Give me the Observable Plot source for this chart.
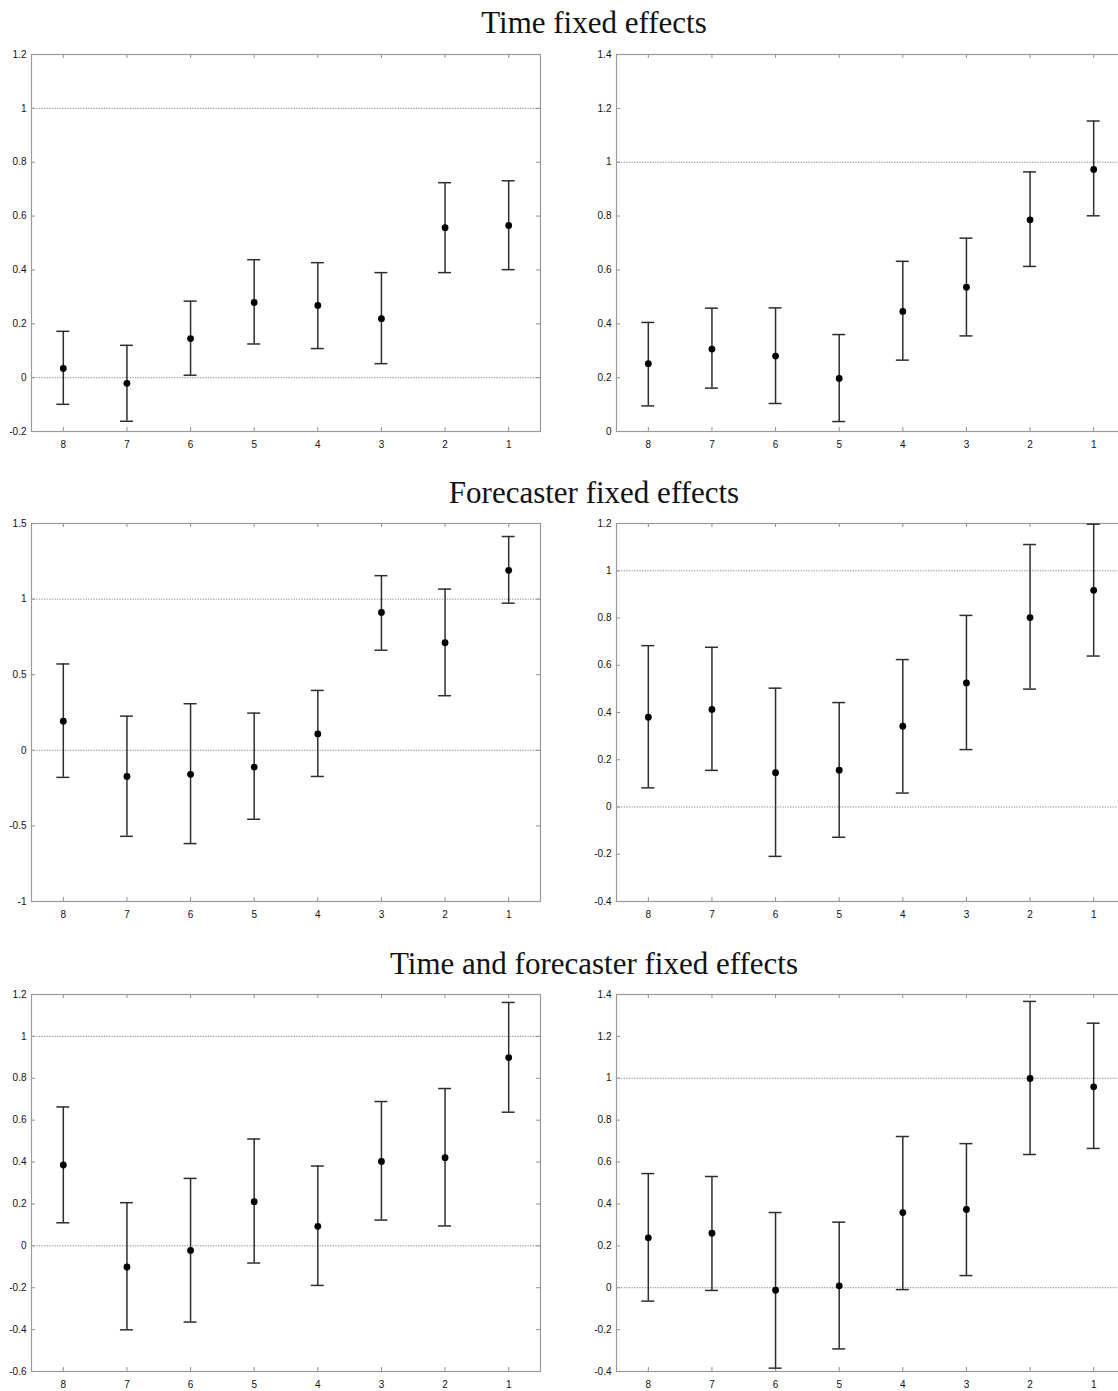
<!DOCTYPE html>
<html><head><meta charset="utf-8">
<script src="https://cdn.jsdelivr.net/npm/d3@7"></script>
<script src="https://cdn.jsdelivr.net/npm/@observablehq/plot@0.6"></script>
<style>
html,body{margin:0;padding:0;background:#fff;overflow:hidden;}
#root{position:relative;width:1118px;height:1391px;overflow:hidden;background:#fff;}
.title{position:absolute;left:0;width:1188px;text-align:center;font-family:"Liberation Serif","DejaVu Serif",serif;font-size:31px;color:#111;line-height:31px;white-space:nowrap;}
.panel{position:absolute;}
</style></head><body><div id="root"></div>
<script>
// Forecast horizons (x categories, plotted left to right)
const horizons = ["8","7","6","5","4","3","2","1"];
const refLines = [0, 1];

// Time fixed effects
const timeLeftEst  = [0.034, -0.021, 0.145, 0.279, 0.268, 0.219, 0.557, 0.565];
const timeLeftLow  = [-0.099, -0.162, 0.009, 0.125, 0.108, 0.052, 0.390, 0.401];
const timeLeftHigh = [0.172, 0.120, 0.284, 0.438, 0.427, 0.390, 0.724, 0.731];
const timeRightEst  = [0.252, 0.306, 0.280, 0.197, 0.446, 0.536, 0.786, 0.973];
const timeRightLow  = [0.095, 0.161, 0.104, 0.037, 0.265, 0.355, 0.613, 0.801];
const timeRightHigh = [0.405, 0.458, 0.459, 0.360, 0.632, 0.718, 0.964, 1.153];

// Forecaster fixed effects
const fcLeftEst  = [0.192, -0.173, -0.159, -0.111, 0.108, 0.912, 0.712, 1.190];
const fcLeftLow  = [-0.179, -0.569, -0.617, -0.456, -0.173, 0.662, 0.361, 0.973];
const fcLeftHigh = [0.571, 0.226, 0.308, 0.246, 0.396, 1.155, 1.066, 1.414];
const fcRightEst  = [0.380, 0.413, 0.145, 0.156, 0.342, 0.525, 0.802, 0.917];
const fcRightLow  = [0.081, 0.155, -0.209, -0.128, 0.059, 0.243, 0.499, 0.639];
const fcRightHigh = [0.683, 0.676, 0.503, 0.442, 0.624, 0.811, 1.111, 1.197];

// Time and forecaster fixed effects
const bothLeftEst  = [0.386, -0.101, -0.022, 0.211, 0.093, 0.403, 0.421, 0.899];
const bothLeftLow  = [0.110, -0.401, -0.364, -0.082, -0.189, 0.123, 0.095, 0.638];
const bothLeftHigh = [0.663, 0.206, 0.322, 0.510, 0.381, 0.689, 0.751, 1.162];
const bothRightEst  = [0.238, 0.260, -0.012, 0.009, 0.359, 0.374, 0.999, 0.959];
const bothRightLow  = [-0.064, -0.013, -0.384, -0.292, -0.009, 0.058, 0.636, 0.665];
const bothRightHigh = [0.545, 0.531, 0.359, 0.313, 0.722, 0.688, 1.367, 1.263];

// Y tick labels per panel
const ticksTimeLeft  = [-0.2, 0, 0.2, 0.4, 0.6, 0.8, 1, 1.2];
const ticksTimeRight = [0, 0.2, 0.4, 0.6, 0.8, 1, 1.2, 1.4];
const ticksFcLeft    = [-1, -0.5, 0, 0.5, 1, 1.5];
const ticksFcRight   = [-0.4, -0.2, 0, 0.2, 0.4, 0.6, 0.8, 1, 1.2];
const ticksBothLeft  = [-0.6, -0.4, -0.2, 0, 0.2, 0.4, 0.6, 0.8, 1, 1.2];
const ticksBothRight = [-0.4, -0.2, 0, 0.2, 0.4, 0.6, 0.8, 1, 1.2, 1.4];

const sectionTitles = ["Time fixed effects", "Forecaster fixed effects", "Time and forecaster fixed effects"];

const root = document.getElementById("root");
const fmt = d => String(+(+d).toFixed(1));

function panel(est, low, high, yTicks, left, frameTop, H) {
  const W = 509, mL = 31, mR = 4, mT = 8, mB = 26;
  const capInset = W / horizons.length / 2 - 6.5;
  const data = horizons.map((h, i) => ({h, est: est[i], lo: low[i], hi: high[i]}));
  const axisColor = "#8f8f8f";
  const barColor = "#2e2e2e";
  const svg = Plot.plot({
    width: mL + W + mR, height: mT + H + mB,
    marginLeft: mL, marginRight: mR, marginTop: mT, marginBottom: mB,
    style: {background: "transparent", overflow: "visible", fontFamily: "'Liberation Sans', Arial, sans-serif", fontSize: "10px", color: "#111"},
    x: {type: "band", domain: horizons, padding: 0, round: false, axis: null},
    y: {domain: [yTicks[0], yTicks[yTicks.length - 1]], axis: null},
    marks: [
      Plot.ruleY(refLines, {y: d => d, stroke: "#8a8a8a", strokeWidth: 1, strokeDasharray: "1.3,1.3"}),
      Plot.tickY(yTicks, {y: d => d, insetRight: W - 4, stroke: axisColor}),
      Plot.tickY(yTicks, {y: d => d, insetLeft: W - 4, stroke: axisColor}),
      Plot.tickX(horizons, {x: d => d, insetBottom: H - 4, stroke: axisColor}),
      Plot.tickX(horizons, {x: d => d, insetTop: H - 4, stroke: axisColor}),
      Plot.frame({stroke: "#9a9a9a", strokeWidth: 1.2}),
      Plot.axisY(yTicks, {anchor: "left", label: null, tickSize: 0, tickPadding: 5, tickFormat: fmt, fill: "#111", fontSize: 10}),
      Plot.axisX(horizons, {anchor: "bottom", label: null, tickSize: 0, tickPadding: 9, fill: "#111", fontSize: 10}),
      Plot.ruleX(data, {x: "h", y1: "lo", y2: "hi", stroke: barColor, strokeWidth: 1.5}),
      Plot.tickY(data, {x: "h", y: "lo", insetLeft: capInset, insetRight: capInset, stroke: barColor, strokeWidth: 1.5}),
      Plot.tickY(data, {x: "h", y: "hi", insetLeft: capInset, insetRight: capInset, stroke: barColor, strokeWidth: 1.5}),
      Plot.dot(data, {x: "h", y: "est", r: 3.4, fill: "#000", stroke: "none"})
    ]
  });
  svg.classList.add("panel");
  svg.style.left = left + "px";
  svg.style.top = (frameTop - mT) + "px";
  root.appendChild(svg);
}

function title(text, top) {
  const d = document.createElement("div");
  d.className = "title";
  d.style.top = top + "px";
  d.textContent = text;
  root.appendChild(d);
}

title(sectionTitles[0], 7);
title(sectionTitles[1], 477);
title(sectionTitles[2], 948);

panel(timeLeftEst, timeLeftLow, timeLeftHigh, ticksTimeLeft, 0, 54, 377);
panel(timeRightEst, timeRightLow, timeRightHigh, ticksTimeRight, 585, 54, 377);
panel(fcLeftEst, fcLeftLow, fcLeftHigh, ticksFcLeft, 0, 523, 378);
panel(fcRightEst, fcRightLow, fcRightHigh, ticksFcRight, 585, 523, 378);
panel(bothLeftEst, bothLeftLow, bothLeftHigh, ticksBothLeft, 0, 994, 377);
panel(bothRightEst, bothRightLow, bothRightHigh, ticksBothRight, 585, 994, 377);
</script></body></html>
